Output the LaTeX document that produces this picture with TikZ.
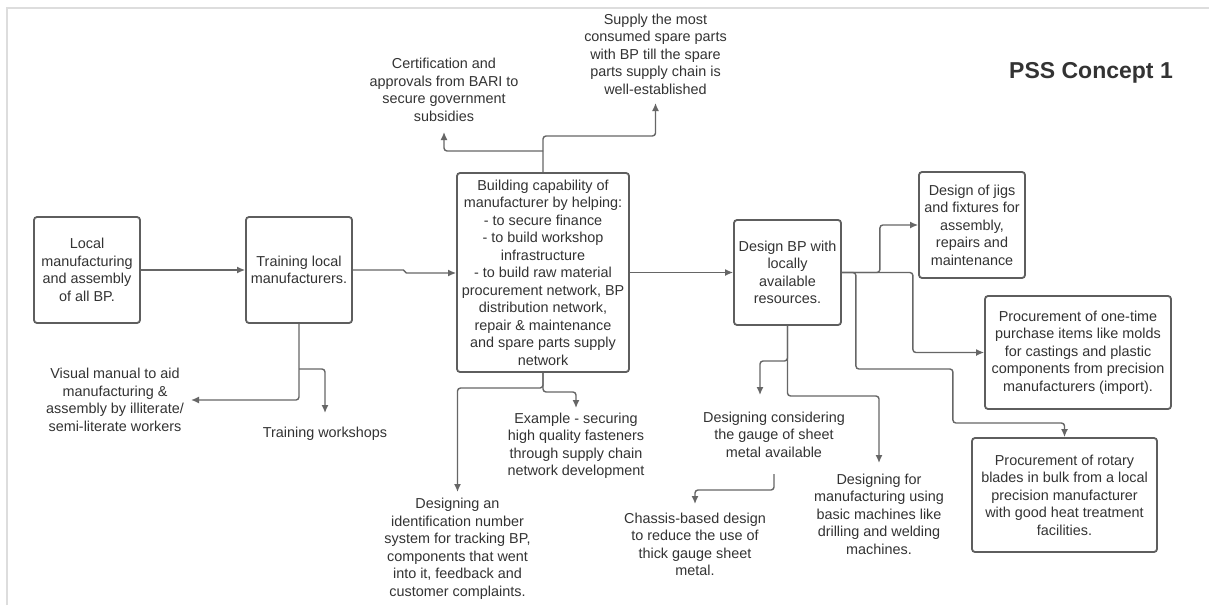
\documentclass[tikz,border=0pt]{standalone}
\usepackage{fontspec}
\setmainfont{Liberation Sans}
\usetikzlibrary{arrows.meta}
\definecolor{boxc}{HTML}{5E5E5E}
\definecolor{linec}{HTML}{666666}
\definecolor{txtc}{HTML}{333333}
\definecolor{framec}{HTML}{DDDDDD}
\begin{document}
\begin{tikzpicture}[x=1pt,y=-1pt,
  font=\fontsize{14.4}{17.5}\selectfont, text=txtc,
  box/.style={draw=boxc, line width=1.8pt, rounded corners=3pt, align=center, inner sep=0pt},
  lbl/.style={align=center, inner sep=0pt},
  arr/.style={draw=linec, line width=1.4pt, rounded corners=3pt, -{Latex[length=8pt,width=7pt]}}]
\useasboundingbox (0,0) rectangle (1209,605);
\fill[white] (0,0) rectangle (1209,605);
\draw[framec, line width=2pt] (7,605) -- (7,7.5) -- (1209,7.5);

% title
\node[font=\fontsize{23}{28}\selectfont\bfseries, anchor=base] (title) at (1091,78) {PSS Concept 1};

% boxes
\node[box, minimum width=106pt, minimum height=106pt] (b1) at (87,270) {Local\\manufacturing\\and assembly\\of all BP.};
\node[box, minimum width=106pt, minimum height=106pt] (b2) at (299,270) {Training local\\manufacturers.};
\node[box, minimum width=172pt, minimum height=199pt] (b3) at (543,272.5) {Building capability of\\manufacturer by helping:\\- to secure finance\\- to build workshop\\infrastructure\\- to build raw material\\procurement network, BP\\distribution network,\\repair \& maintenance\\and spare parts supply\\network};
\node[box, minimum width=107pt, minimum height=105pt] (b4) at (787.5,272.5) {Design BP with\\locally\\available\\resources.};
\node[box, minimum width=106pt, minimum height=106pt] (jigs) at (972,225) {Design of jigs\\and fixtures for\\assembly,\\repairs and\\maintenance};
\node[box, minimum width=186pt, minimum height=113pt] (b5) at (1078,352.5) {Procurement of one-time\\purchase items like molds\\for castings and plastic\\components from precision\\manufacturers (import).};
\node[box, minimum width=185pt, minimum height=114pt] (rot) at (1064.5,495) {Procurement of rotary\\blades in bulk from a local\\precision manufacturer\\with good heat treatment\\facilities.};

% free labels
\node[lbl] (cert) at (444,90) {Certification and\\approvals from BARI to\\secure government\\subsidies};
\node[lbl] (supply) at (655.5,54) {Supply the most\\consumed spare parts\\with BP till the spare\\parts supply chain is\\well-established};
\node[lbl] (vis) at (115,400) {Visual manual to aid\\manufacturing \&\\assembly by illiterate/\\semi-literate workers};
\node[lbl] (tw) at (325,434) {Training workshops};
\node[lbl] (ex) at (576,446) {Example - securing\\high quality fasteners\\through supply chain\\network development};
\node[lbl] (idn) at (457.5,549) {Designing an\\identification number\\system for tracking BP,\\components that went\\into it, feedback and\\customer complaints.};
\node[lbl] (dc) at (774,434.5) {Designing considering\\the gauge of sheet\\metal available};
\node[lbl] (chassis) at (695,544.5) {Chassis-based design\\to reduce the use of\\thick gauge sheet\\metal.};
\node[lbl] (dfm) at (879,514) {Designing for\\manufacturing using\\basic machines like\\drilling and welding\\machines.};
\coordinate (dcin) at (760,395);

% connectors
\draw[arr] (b1.east) -- (b2.west);
\draw[arr, rounded corners=1.5pt] (b2.east) -- ++(52,0) -- ++(0,3) -- (b3.west |- 0,273);
\draw[arr] (b3.east) -- (b4.west);
\draw[arr] (b3.north) |- (supply.south |- 0,136) -- (supply.south |- 0,103);
\draw[arr] (b3.north |- 0,151) -| (cert.south |- 0,132);
\draw[arr] (b3.south) |- (ex.north |- 0,392) -- (ex.north |- 0,408);
\draw[arr] (b3.south) |- (idn.north |- 0,388) -- (idn.north |- 0,492);
\draw[arr] (b2.south) |- ([xshift=7pt]vis.east);
\draw[arr] (b2.south |- 0,369) -| (tw.north |- 0,413);
\draw[arr] (b4.south) |- (dcin |- 0,361) -- (dcin);
\draw[arr] (b4.south) |- (dfm.north |- 0,396) -- (dfm.north |- 0,463);
\draw[arr] (dc.south |- 0,474) -- (dc.south |- 0,490) -| (chassis.north |- 0,504);
\draw[arr] (b4.east) -- ++(38,0) |- (jigs.west);
\draw[arr] (b4.east) -- ++(71,0) |- (b5.west);
\draw[arr] (b4.east) -- ++(14,0) -- ++(0,96.5) -- ++(97,0) -- ++(0,54) -| (rot.north);
\end{tikzpicture}
\end{document}
